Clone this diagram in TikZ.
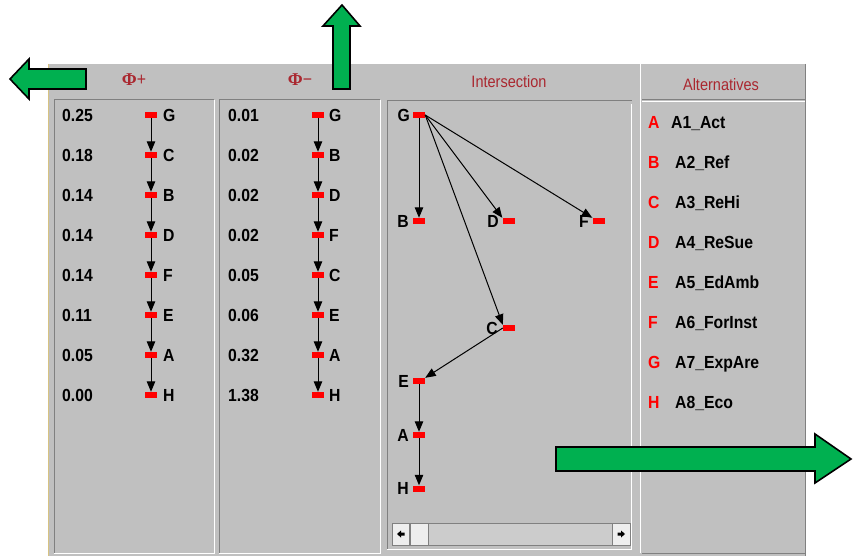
\documentclass[tikz,border=0pt]{standalone}
\usepackage{fontspec}
\setmainfont{Liberation Sans}
\newfontfamily\lblfont{Liberation Sans}[FakeStretch=0.9]
\newfontfamily\hdfont{Liberation Sans}[FakeStretch=0.88]
\newfontfamily\phifont{Liberation Serif}
\usetikzlibrary{arrows.meta}
\definecolor{win}{RGB}{192,192,192}
\definecolor{hdr}{RGB}{170,40,48}
\definecolor{grn}{RGB}{0,176,80}
\definecolor{dk}{RGB}{128,128,128}
\definecolor{ylw}{RGB}{215,195,130}
\definecolor{track}{RGB}{204,204,204}
\definecolor{btn}{RGB}{238,238,238}
\begin{document}
\begin{tikzpicture}[x=1pt,y=-1pt,
  sq/.style={fill=red,minimum width=12pt,minimum height=6pt,inner sep=0pt},
  lbl/.style={font=\lblfont\fontsize{17.5}{20}\selectfont\bfseries,inner sep=0pt},
  redlbl/.style={lbl,text=red},
  hd/.style={font=\hdfont\fontsize{16.5}{19}\selectfont,text=hdr,inner sep=0pt,anchor=base},
  arr/.style={draw=black,line width=1pt,-{Triangle[length=10.5pt,width=8.5pt]}},
  garrow/.style={fill=grn,draw=black,line width=1.6pt,line join=miter},
  dkl/.style={draw=dk,line width=1pt},
  wl/.style={draw=white,line width=1pt}]
\useasboundingbox (0,0) rectangle (853,556);
\fill[white] (0,0) rectangle (853,556);
% window
\fill[win] (48,64) rectangle (806,556);
\draw[ylw,line width=1.5pt] (48.5,64) -- (48.5,556);
\draw[dkl] (805.5,64) -- (805.5,556);
% headers
\node[hd] (hplus) at (134,85.5) {{\phifont\fontsize{18}{20}\selectfont\bfseries Φ}{\fontsize{18}{20}\selectfont +}};
\node[hd] (hminus) at (300,85.5) {{\phifont\fontsize{18}{20}\selectfont\bfseries Φ}{\fontsize{18}{20}\selectfont −}};
\node[hd] (hint) at (509,87.5) {Intersection};
\node[hd] (halt) at (721,91) {Alternatives};
% panel borders
\draw[dkl] (54,553) -- (54,100) -- (214,100);
\draw[wl] (214,100) -- (214,553) -- (54,553);
\draw[dkl] (219,553) -- (219,100) -- (380,100);
\draw[wl] (380,100) -- (380,553) -- (219,553);
\draw[dkl] (387,549) -- (387,101) -- (632,101);
\draw[wl] (631,104) -- (631,549) -- (387,549);
\draw[wl] (640,64) -- (640,553);
\draw[dkl] (642,99.5) -- (805,99.5);
\draw[wl] (642,101.5) -- (805,101.5);
\draw[dkl] (642,553) -- (805,553);
% Phi+ panel
\foreach \v/\l [count=\i] in {0.25/G,0.18/C,0.14/B,0.14/D,0.14/F,0.11/E,0.05/A,0.00/H} {
  \pgfmathsetmacro\yy{75+40*\i}
  \node[sq] (p\i) at (151,\yy) {};
  \node[lbl,anchor=base west] (pv\i) at (62,\yy+6.2) {\v};
  \node[lbl,anchor=base west] (pl\i) at (163,\yy+6.2) {\l};
}
\foreach \i [evaluate=\i as \j using int(\i+1)] in {1,...,7}
  \draw[arr] (p\i.south) -- (p\j.north);
% Phi- panel
\foreach \v/\l [count=\i] in {0.01/G,0.02/B,0.02/D,0.02/F,0.05/C,0.06/E,0.32/A,1.38/H} {
  \pgfmathsetmacro\yy{75+40*\i}
  \node[sq] (m\i) at (318,\yy) {};
  \node[lbl,anchor=base west] (mv\i) at (228,\yy+6.2) {\v};
  \node[lbl,anchor=base west] (ml\i) at (329,\yy+6.2) {\l};
}
\foreach \i [evaluate=\i as \j using int(\i+1)] in {1,...,7}
  \draw[arr] (m\i.south) -- (m\j.north);
% Intersection
\foreach \n/\x/\y/\lx in {G/419/115/410,B/419/221/409,D/508.5/221/499,F/598.5/221/589,C/509/328/498,E/419/381/409,A/419/435/409,H/419/488.5/409} {
  \node[sq] (i\n) at (\x,\y) {};
  \node[lbl,anchor=base east] (il\n) at (\lx,\y+6.2) {\n};
}
\draw[arr] (iG.south) -- (iB.north);
\draw[arr] (iG.east) -- (iD.north west);
\draw[arr] (iG.east) -- (iF.north west);
\draw[arr] (iG.east) -- (iC.north west);
\draw[arr] (iC.west) -- (iE.north east);
\draw[arr] (iE.south) -- (iA.north);
\draw[arr] (iA.south) -- (iH.north);
% scrollbar
\draw[fill=track,draw=dk] (392,523) rectangle (630,545);
\draw[fill=btn,draw=dk] (392,523) rectangle (409,545);
\draw[fill=btn,draw=dk] (410,523) rectangle (428,545);
\draw[fill=btn,draw=dk] (612,523) rectangle (630,545);
\fill[black] (397,534) -- (401,530.5) -- (401,532.5) -- (404.5,532.5) -- (404.5,535.5) -- (401,535.5) -- (401,537.5) -- cycle;
\fill[black] (625,534) -- (621,530.5) -- (621,532.5) -- (617.5,532.5) -- (617.5,535.5) -- (621,535.5) -- (621,537.5) -- cycle;
% Alternatives
\foreach \l/\n/\x [count=\i] in {A/A1\_Act/671,B/A2\_Ref/675,C/A3\_ReHi/675,D/A4\_ReSue/675,E/A5\_EdAmb/675,F/A6\_ForInst/675,G/A7\_ExpAre/675,H/A8\_Eco/675} {
  \pgfmathsetmacro\yy{82+40*\i}
  \node[redlbl,anchor=base west] (al\i) at (648,\yy+6.2) {\l};
  \node[lbl,anchor=base west] (an\i) at (\x,\yy+6.2) {\n};
}
% green arrows
\draw[garrow] (86,69) -- (29,69) -- (29,59) -- (10,79) -- (29,99) -- (29,89) -- (86,89) -- cycle;
\draw[garrow] (333,89) -- (333,26) -- (323,26) -- (342,5) -- (360,26) -- (350,26) -- (350,89) -- cycle;
\draw[garrow] (556,447) -- (815,447) -- (815,434) -- (851,459) -- (815,483) -- (815,471) -- (556,471) -- cycle;
\end{tikzpicture}
\end{document}
